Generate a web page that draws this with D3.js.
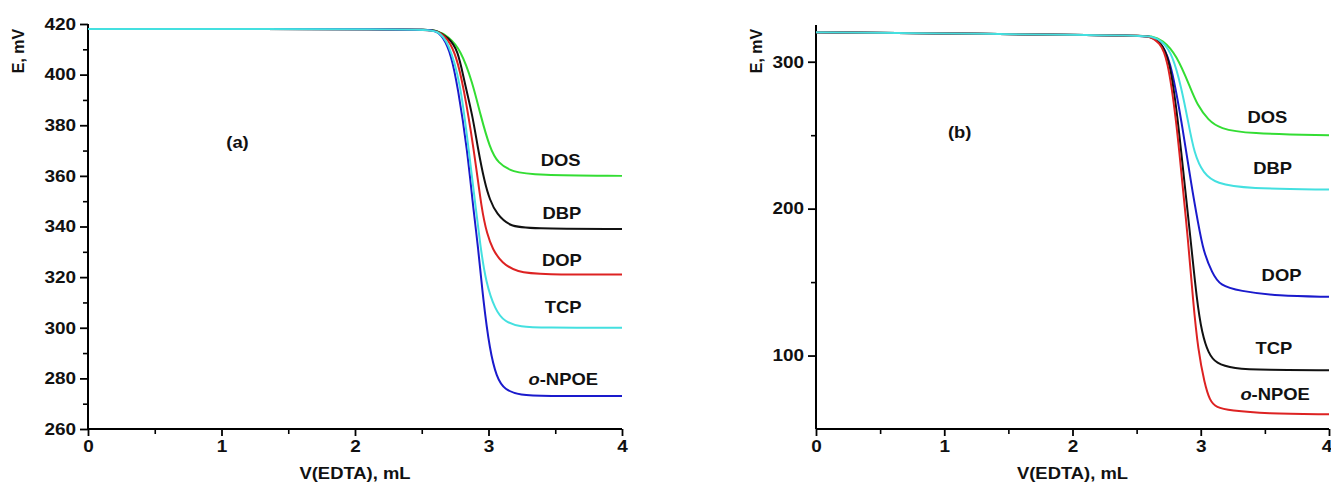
<!DOCTYPE html>
<html>
<head>
<meta charset="utf-8">
<script src="https://d3js.org/d3.v7.min.js"></script>
<style>
  body { margin: 0; background: #fff; }
  svg text { font-family: "Liberation Sans", Arial, sans-serif; font-weight: bold; fill: #111; }
  .wide { transform-box: fill-box; transform-origin: center; transform: scaleX(1.15); }
</style>
</head>
<body>
<svg></svg>
<script>
    // ---- data: [V(EDTA) mL, E mV] ----
    // panel (a)
    var aDOS  = [[0,418],[2.5,418],[2.62,417.5],[2.7,415],[2.79,410],[2.88,397],[2.94,384],[3.01,371],[3.07,365],[3.18,361.5],[3.35,360.3],[4,360]];
    var aDBP  = [[0,418],[2.5,418],[2.62,417.5],[2.7,414.5],[2.77,410],[2.82,397],[2.88,384],[2.92,371],[2.97,357.6],[3.01,350.5],[3.06,345],[3.16,340],[3.3,339.2],[4,339]];
    var aDOP  = [[0,418],[2.5,418],[2.62,417.5],[2.7,414],[2.76,407],[2.81,396],[2.89,371],[2.95,346],[2.99,337],[3.03,331],[3.1,325.6],[3.21,322],[3.4,321],[4,321]];
    var aTCP  = [[0,418],[2.5,418],[2.62,417.5],[2.7,413],[2.79,397],[2.85,371],[2.91,345],[2.94,332],[2.98,318],[3.05,307],[3.12,302.3],[3.24,300.3],[3.4,300],[4,300]];
    var aNPOE = [[0,418],[2.5,418],[2.6,417.5],[2.66,415],[2.72,408],[2.77,395],[2.84,371],[2.89,345],[2.92,333],[2.96,311],[3.01,291],[3.06,280.5],[3.12,275.4],[3.24,273.4],[3.4,273],[4,273]];

    // panel (b)
    var bDOS  = [[0,320],[2.5,318],[2.62,317.5],[2.7,315],[2.81,305],[2.92,282],[2.97,271],[3.06,260],[3.15,254.5],[3.36,251],[4,250]];
    var bDBP  = [[0,320],[2.5,318],[2.62,317.5],[2.7,314],[2.78,305],[2.85,282],[2.9,260],[2.95,237],[3.02,224],[3.12,217],[3.36,213.6],[4,213]];
    var bDOP  = [[0,320],[2.5,318],[2.6,317.5],[2.68,314],[2.76,303],[2.85,260],[2.93,214],[2.98,190],[3.02,171],[3.09,156],[3.15,147.6],[3.3,144],[3.6,140.5],[4,140]];
    var bTCP  = [[0,320],[2.5,318],[2.62,317.5],[2.7,312],[2.76,300],[2.82,262],[2.87,220],[2.92,180],[2.97,137],[3.01,115],[3.06,101.4],[3.12,94.6],[3.25,91.2],[3.5,90.2],[4,90]];
    var bNPOE = [[0,320],[2.5,318],[2.6,317.5],[2.68,313],[2.74,303],[2.81,260],[2.86,214],[2.9,180],[2.94,137],[2.98,103],[3.03,81],[3.07,69.4],[3.12,64.6],[3.23,62.6],[3.5,60.5],[4,60]];

    var names = ['DOS', 'DBP', 'DOP', 'TCP', 'o-NPOE'];
    var colorsA = ['#33dd33', '#111111', '#dd2222', '#44e0e0', '#1a1acc'];
    var colorsB = ['#33dd33', '#44e0e0', '#1a1acc', '#111111', '#dd2222'];
    // label anchors in data units
    var labelsA = [[3.54,366.3],[3.55,345.3],[3.55,326.8],[3.56,308.2],[3.56,279.4]];
    var labelsB = [[3.52,261.9],[3.56,227.2],[3.63,154.4],[3.57,104.8],[3.58,73.5]];

    var xTicks = [0, 1, 2, 3, 4];
    var yTicksA = [260, 280, 300, 320, 340, 360, 380, 400, 420];
    var yTicksB = [100, 200, 300];

    var svg = d3.select('svg').attr('width', 1331).attr('height', 488);

    function panel(opt) {
        var x = d3.scaleLinear().domain([0, 4]).range(opt.xr);
        var y = d3.scaleLinear().domain(opt.yd).range(opt.yr);
        var g = svg.append('g');

        // x axis: minor then major
        g.append('g').attr('transform', 'translate(0,' + opt.yr[0] + ')')
            .call(d3.axisBottom(x).tickValues([0.5, 1.5, 2.5, 3.5]).tickSize(5).tickFormat(''))
            .call(function (s) { s.select('.domain').remove(); s.selectAll('line').attr('stroke-width', 1.6); });
        g.append('g').attr('transform', 'translate(0,' + opt.yr[0] + ')')
            .call(d3.axisBottom(x).tickValues(xTicks).tickSize(7).tickPadding(4).tickFormat(d3.format('d')))
            .call(function (s) {
                s.select('.domain').attr('stroke-width', 2).attr('d', 'M' + opt.xr[0] + ',0H' + opt.xr[1]);
                s.selectAll('line').attr('stroke-width', 1.8);
                s.selectAll('text').attr('class', 'wide').style('font-size', '16.5px').attr('fill', '#111');
                if (opt.lastEnd) {
                    s.selectAll('text').filter(function (d) { return d === 4; })
                        .attr('text-anchor', 'end').attr('x', 1331 - opt.xr[1]);
                }
            });

        // y axis: minor then major
        g.append('g').attr('transform', 'translate(' + opt.xr[0] + ',0)')
            .call(d3.axisLeft(y).tickValues(opt.yMinor).tickSize(5).tickFormat(''))
            .call(function (s) { s.select('.domain').remove(); s.selectAll('line').attr('stroke-width', 1.6); });
        g.append('g').attr('transform', 'translate(' + opt.xr[0] + ',0)')
            .call(d3.axisLeft(y).tickValues(opt.yTicks).tickSize(8).tickPadding(6))
            .call(function (s) {
                s.select('.domain').attr('stroke-width', 2).attr('d', 'M0,' + opt.yr[0] + 'V' + opt.yr[1]);
                s.selectAll('line').attr('stroke-width', 1.8);
                s.selectAll('text').attr('class', 'wide').style('font-size', '16.5px').attr('fill', '#111');
            });

        // curves (cyan drawn last, as in the figure)
        var line = d3.line().x(function (d) { return x(d[0]); }).y(function (d) { return y(d[1]); })
            .curve(d3.curveBasis);
        var order = d3.range(opt.series.length).sort(function (a, b) {
            return (opt.colors[a] === '#44e0e0') - (opt.colors[b] === '#44e0e0');
        });
        order.forEach(function (i) {
            g.append('path').datum(opt.series[i]).attr('d', line)
                .attr('fill', 'none').attr('stroke', opt.colors[i]).attr('stroke-width', 2);
        });

        // curve labels
        opt.labels.forEach(function (p, i) {
            var t = g.append('text').attr('class', 'wide')
                .attr('x', x(p[0])).attr('y', y(p[1]))
                .attr('text-anchor', 'middle').attr('dy', '0.35em').style('font-size', '16px');
            if (names[i] === 'o-NPOE') {
                t.append('tspan').style('font-style', 'italic').text('o');
                t.append('tspan').text('-NPOE');
            } else {
                t.text(names[i]);
            }
        });

        // panel tag
        g.append('text').attr('class', 'wide').attr('x', x(opt.tag[0])).attr('y', y(opt.tag[1]))
            .attr('text-anchor', 'middle').attr('dy', '0.35em').style('font-size', '16px').text(opt.tag[2]);

        // axis titles
        g.append('text').attr('class', 'wide')
            .attr('x', (opt.xr[0] + opt.xr[1]) / 2).attr('y', 479)
            .attr('text-anchor', 'middle').style('font-size', '16px').text('V(EDTA), mL');
        g.append('text')
            .attr('transform', 'translate(' + opt.yLab[0] + ',' + opt.yLab[1] + ') rotate(-90)')
            .attr('text-anchor', 'middle').attr('dy', '0.35em').style('font-size', '16px').text('E, mV');
    }

    panel({
        xr: [88, 622], yd: [260, 420], yr: [429, 24],
        yTicks: yTicksA, yMinor: [270, 290, 310, 330, 350, 370, 390, 410],
        series: [aDOS, aDBP, aDOP, aTCP, aNPOE], colors: colorsA, labels: labelsA,
        tag: [1.12, 373.4, '(a)'], yLab: [18, 51]
    });
    panel({
        xr: [816, 1329], yd: [50, 325], yr: [429, 25],
        yTicks: yTicksB, yMinor: [150, 250],
        series: [bDOS, bDBP, bDOP, bTCP, bNPOE], colors: colorsB, labels: labelsB,
        tag: [1.12, 251.7, '(b)'], yLab: [756, 51], lastEnd: true
    });
</script>
</body>
</html>
